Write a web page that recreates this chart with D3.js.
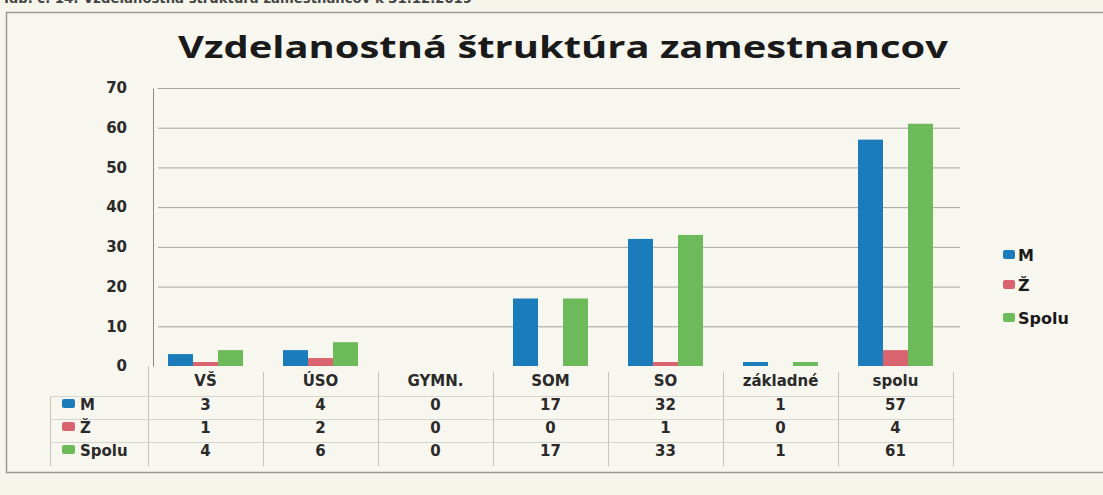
<!DOCTYPE html>
<html lang="sk">
<head>
<meta charset="UTF-8">
<title>Vzdelanostná štruktúra zamestnancov</title>
<script src="https://cdn.jsdelivr.net/npm/d3@7"></script>
<style>
  body { margin: 0; background: #f6f5ec; }
  svg { display: block; }
</style>
</head>
<body>
<svg id="svg"></svg>
<script>
var WIDTH = 1103, HEIGHT = 495;

// data
var categories = ["VŠ", "ÚSO", "GYMN.", "SOM", "SO", "základné", "spolu"];
var seriesNames = ["M", "Ž", "Spolu"];
var valuesM = [3, 4, 0, 17, 32, 1, 57];
var valuesZ = [1, 2, 0, 0, 1, 0, 4];
var valuesSpolu = [4, 6, 0, 17, 33, 1, 61];
var yTicks = [0, 10, 20, 30, 40, 50, 60, 70];

var seriesValues = [valuesM, valuesZ, valuesSpolu];
var colors = ["#1b7cbc", "#d9646f", "#6dba5a"];

var FONT = "DejaVu Sans";

var svg = d3.select("#svg").attr("width", WIDTH).attr("height", HEIGHT);

// page background + frame
svg.append("rect").attr("width", WIDTH).attr("height", HEIGHT).attr("fill", "#f6f5ec");
// caption above the chart, cut off by the scan edge
svg.append("text")
   .attr("x", 2).attr("y", 3)
   .attr("font-family", FONT).attr("font-weight", "bold")
   .attr("font-size", 14).attr("fill", "#444")
   .attr("textLength", 470).attr("lengthAdjust", "spacingAndGlyphs")
   .text("Tab. č. 14: Vzdelanostná štruktúra zamestnancov k 31.12.2019");
svg.append("rect")
   .attr("x", 6.5).attr("y", 12.5).attr("width", 1110).attr("height", 460)
   .attr("fill", "#f8f7ef").attr("stroke", "#9a9a94").attr("stroke-width", 1.5);

// title
svg.append("text")
   .attr("x", 563).attr("y", 58)
   .attr("text-anchor", "middle")
   .attr("font-family", "Open Sans").attr("font-weight", "bold")
   .attr("font-size", 31).attr("fill", "#1a1a1a")
   .attr("textLength", 770).attr("lengthAdjust", "spacingAndGlyphs")
   .text("Vzdelanostná štruktúra zamestnancov");

// scales
var xScale = d3.scaleBand().domain(categories).range([148, 953]);
var xInner = d3.scaleBand().domain(seriesNames)
               .range([0, xScale.bandwidth()])
               .paddingInner(0).paddingOuter(0.8);
var yScale = d3.scaleLinear().domain([0, 70]).range([366, 88]);

// gridlines
svg.append("g").selectAll("line")
   .data(yTicks.slice(1))
   .enter().append("line")
   .attr("x1", 158).attr("x2", 960)
   .attr("y1", function(d){ return yScale(d) + 0.5; })
   .attr("y2", function(d){ return yScale(d) + 0.5; })
   .attr("stroke", "#a4a49c").attr("stroke-width", 1);

// y axis
var yAxis = d3.axisLeft(yScale).tickValues(yTicks).tickSize(0).tickPadding(26);
var gy = svg.append("g")
   .attr("transform", "translate(153,0)")
   .call(yAxis);
gy.select(".domain").attr("stroke", "#8a8a84");
gy.selectAll("text")
  .attr("font-family", FONT).attr("font-weight", "bold")
  .attr("font-size", 15).attr("fill", "#2a2a2a");

// bars
var groups = svg.append("g").selectAll("g")
   .data(categories)
   .enter().append("g")
   .attr("transform", function(d){ return "translate(" + xScale(d) + ",0)"; });

groups.selectAll("rect")
   .data(function(d, i){
       return seriesNames.map(function(s, j){ return { s: s, v: seriesValues[j][i], c: colors[j] }; });
   })
   .enter().append("rect")
   .attr("x", function(d){ return xInner(d.s); })
   .attr("y", function(d){ return yScale(d.v); })
   .attr("width", xInner.bandwidth())
   .attr("height", function(d){ return yScale(0) - yScale(d.v); })
   .attr("fill", function(d){ return d.c; });

// data table
var tableLeft = 50, tableBottom = 466;
var rowY = [410, 433, 456];
var tg = svg.append("g");

// vertical table lines
tg.selectAll("line.v")
  .data(categories.concat(["_end"]))
  .enter().append("line")
  .attr("class", "v")
  .attr("x1", function(d, i){ return 148 + i * xScale.step() + 0.5; })
  .attr("x2", function(d, i){ return 148 + i * xScale.step() + 0.5; })
  .attr("y1", function(d, i){ return i === 0 ? 366 : 372; })
  .attr("y2", tableBottom)
  .attr("stroke", "#c2c2ba");
tg.append("line")
  .attr("x1", tableLeft + 0.5).attr("x2", tableLeft + 0.5)
  .attr("y1", 396).attr("y2", tableBottom)
  .attr("stroke", "#c2c2ba");
tg.selectAll("line.h")
  .data([396, 419, 442])
  .enter().append("line")
  .attr("class", "h")
  .attr("x1", tableLeft).attr("x2", 953)
  .attr("y1", function(d){ return d + 0.5; })
  .attr("y2", function(d){ return d + 0.5; })
  .attr("stroke", "#d6d6ce");

// category labels (x axis)
var xAxis = d3.axisBottom(xScale).tickSize(0).tickPadding(9);
var gx = svg.append("g")
   .attr("transform", "translate(0,366)")
   .call(xAxis);
gx.select(".domain").remove();
gx.selectAll("text")
  .attr("font-family", FONT).attr("font-weight", "bold")
  .attr("font-size", 15).attr("fill", "#2a2a2a");

// row keys and values
seriesNames.forEach(function(s, j){
    tg.append("rect")
      .attr("x", 62).attr("y", rowY[j] - 11).attr("width", 13).attr("height", 9)
      .attr("rx", 2).attr("fill", colors[j]);
    tg.append("text")
      .attr("x", 80).attr("y", rowY[j])
      .attr("font-family", FONT).attr("font-weight", "bold")
      .attr("font-size", 15).attr("fill", "#2a2a2a")
      .text(s);
    tg.selectAll("text.val" + j)
      .data(seriesValues[j])
      .enter().append("text")
      .attr("class", "val" + j)
      .attr("x", function(d, i){ return xScale(categories[i]) + xScale.bandwidth() / 2; })
      .attr("y", rowY[j])
      .attr("text-anchor", "middle")
      .attr("font-family", FONT).attr("font-weight", "bold")
      .attr("font-size", 15).attr("fill", "#2a2a2a")
      .text(function(d){ return d; });
});

// legend
var legend = svg.append("g").attr("transform", "translate(1003,0)");
var legendY = [261, 291, 324];
seriesNames.forEach(function(s, j){
    legend.append("rect")
      .attr("x", 0).attr("y", legendY[j] - 11).attr("width", 12).attr("height", 9)
      .attr("rx", 2).attr("fill", colors[j]);
    legend.append("text")
      .attr("x", 15).attr("y", legendY[j])
      .attr("font-family", FONT).attr("font-weight", "bold")
      .attr("font-size", 16).attr("fill", "#1a1a1a")
      .text(s);
});
</script>
</body>
</html>
